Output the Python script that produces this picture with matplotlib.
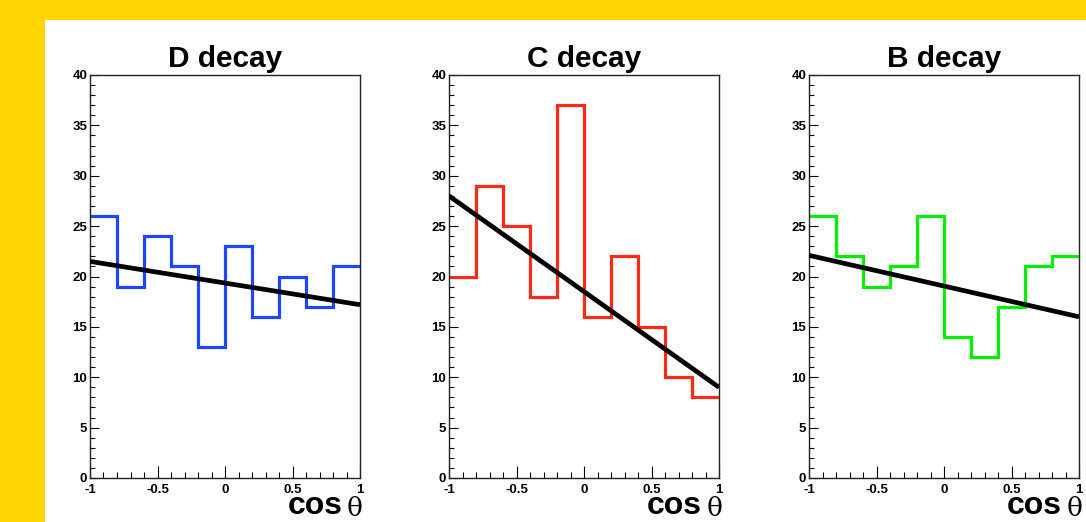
import numpy as np
import matplotlib
matplotlib.use("Agg")
import matplotlib.pyplot as plt
from matplotlib.patches import Rectangle
from matplotlib.ticker import MultipleLocator, FixedLocator

# ---- data ----
titles = ["D decay", "C decay", "B decay"]
bin_edges = [-1.0, -0.8, -0.6, -0.4, -0.2, 0.0, 0.2, 0.4, 0.6, 0.8, 1.0]
d_counts = [26, 19, 24, 21, 13, 23, 16, 20, 17, 21]
c_counts = [20, 29, 25, 18, 37, 16, 22, 15, 10, 8]
b_counts = [26, 22, 19, 21, 26, 14, 12, 17, 21, 22]
fit_x = [-1.0, 1.0]
d_fit = [21.5, 17.2]
c_fit = [28.0, 9.0]
b_fit = [22.1, 16.0]
x_ticks = [-1, -0.5, 0, 0.5, 1]
x_tick_labels = ["-1", "-0.5", "0", "0.5", "1"]
y_ticks = [0, 5, 10, 15, 20, 25, 30, 35, 40]
xlabel_text = "cos"
xlabel_symbol = "\u03b8"

counts = [d_counts, c_counts, b_counts]
fits = [d_fit, c_fit, b_fit]
colors = ["#1E46FF", "#FF2A14", "#00F000"]

W, H = 1086, 522
fig = plt.figure(figsize=(W / 100, H / 100), dpi=100)
fig.patch.set_facecolor("#FFD500")
fig.patches.append(Rectangle((45 / W, 0), 1 - 45 / W, (H - 20) / H,
                             transform=fig.transFigure, facecolor="white",
                             edgecolor="none", zorder=-10))

lefts = [90, 449, 809]
ax_w, ax_top, ax_bot = 270, 75, 478
sans = "Liberation Sans"

for i in range(3):
    L = lefts[i]
    ax = fig.add_axes([L / W, (H - ax_bot) / H, ax_w / W, (ax_bot - ax_top) / H])
    ax.set_facecolor("white")
    ax.stairs(counts[i], bin_edges, baseline=None, color=colors[i], linewidth=2.3, zorder=2)
    ax.plot(fit_x, fits[i], color="black", linewidth=3.4, solid_capstyle="butt", zorder=3)
    ax.set_xlim(-1, 1)
    ax.set_ylim(0, 40)
    ax.xaxis.set_major_locator(FixedLocator(x_ticks))
    ax.set_xticklabels(x_tick_labels)
    ax.xaxis.set_minor_locator(MultipleLocator(0.1))
    ax.yaxis.set_major_locator(FixedLocator(y_ticks))
    ax.yaxis.set_minor_locator(MultipleLocator(1))
    ax.tick_params(axis="x", which="major", direction="in", length=8.5, width=0.8,
                   top=False, pad=4.5, labelsize=9.5)
    ax.tick_params(axis="x", which="minor", direction="in", length=4.3, width=0.8, top=False)
    ax.tick_params(axis="y", which="major", direction="in", length=6.3, width=0.8,
                   right=False, pad=2, labelsize=9.5)
    ax.tick_params(axis="y", which="minor", direction="in", length=3.4, width=0.8, right=False)
    for lab in ax.get_xticklabels() + ax.get_yticklabels():
        lab.set_fontweight("bold")
        lab.set_fontfamily(sans)
    for sp in ax.spines.values():
        sp.set_linewidth(1.0)
        sp.set_color("#222222")
    ax.set_title(titles[i], fontsize=21.5, fontweight="bold", family=sans, pad=6)
    # x label: bold "cos" + serif theta, right aligned at axis end
    fig.text((L + 253) / W, 1 - 521.5 / H, xlabel_text, ha="right", va="bottom",
             fontsize=23, fontweight="bold", family=sans)
    fig.text((L + 273) / W, 1 - 521.5 / H, xlabel_symbol, ha="right", va="bottom",
             fontsize=19, family=["DejaVu Serif"])

fig.savefig("out.png", dpi=100, facecolor=fig.get_facecolor())
